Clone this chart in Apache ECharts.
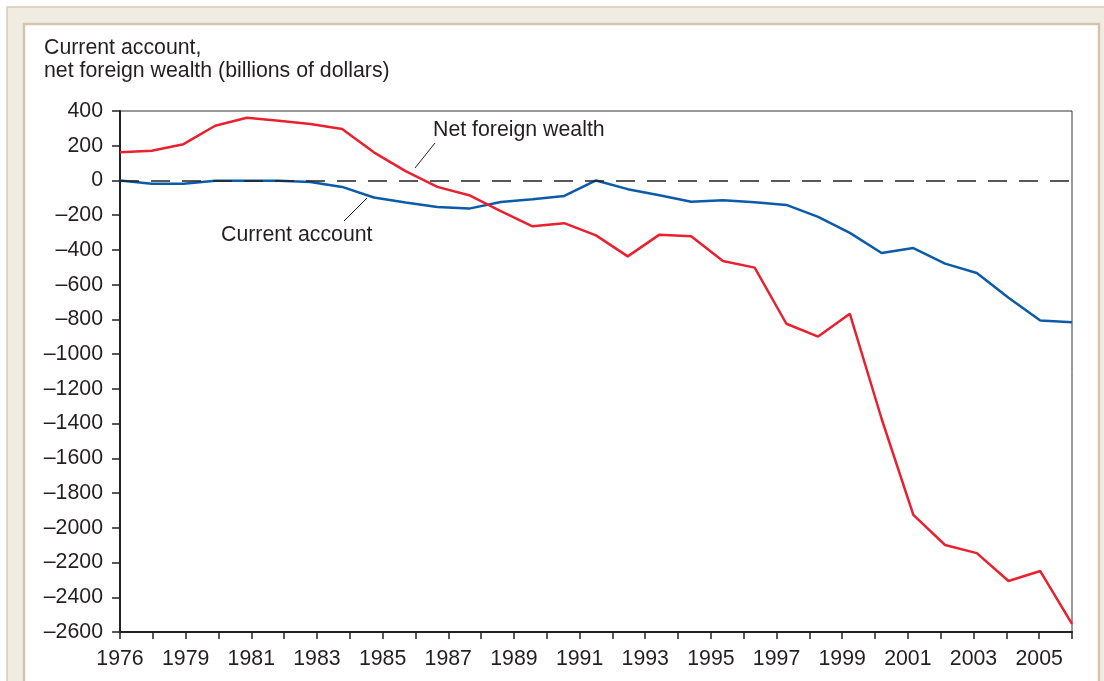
<!DOCTYPE html>
<html>
<head>
<meta charset="utf-8">
<script src="https://cdn.jsdelivr.net/npm/echarts@6/dist/echarts.min.js"></script>
<style>
html,body{margin:0;padding:0;background:#fff;}
#c{width:1104px;height:681px;}
</style>
</head>
<body>
<div id="c"></div>
<script>
// ---- data ----
var years = [1976,1977,1978,1979,1980,1981,1982,1983,1984,1985,1986,1987,1988,1989,1990,1991,1992,1993,1994,1995,1996,1997,1998,1999,2000,2001,2002,2003,2004,2005,2006];
var netForeignWealth = [162,171,209,315,361,344,325,296,162,54,-37,-85,-177,-264,-246,-316,-437,-312,-321,-464,-502,-825,-899,-768,-1372,-1926,-2099,-2146,-2306,-2249,-2553];
var currentAccount = [0,-19,-19,-2,-1,-1,-9,-37,-98,-127,-153,-162,-124,-108,-89,0,-50,-85,-123,-114,-125,-141,-210,-302,-418,-389,-479,-533,-675,-806,-816];
var xTickLabels = ['1976','1979','1981','1983','1985','1987','1989','1991','1993','1995','1997','1999','2001','2003','2005'];
var xTickCount = 29; // tick intervals on the drawn year axis

var FONT = '"Liberation Sans", Arial, Helvetica, sans-serif';
var INK = '#231f20';
var FS = 21.3;

var chart = echarts.init(document.getElementById('c'), null, {renderer:'canvas'});
chart.setOption({
  backgroundColor: '#ffffff',
  animation: false,
  textStyle: {fontFamily: FONT},
  title: {
    text: 'Current account,\nnet foreign wealth (billions of dollars)',
    left: 44, top: 37, padding: 0,
    textStyle: {fontFamily: FONT, fontSize: FS, fontWeight: 'normal', color: INK, lineHeight: 23}
  },
  grid: {left: 120, right: 32, top: 111, bottom: 49, show: true, borderColor: '#333', borderWidth: 1, backgroundColor: '#fff'},
  xAxis: [
    {type: 'category', data: years, boundaryGap: false, show: false},
    {type: 'value', min: 0, max: xTickCount, interval: 1, position: 'bottom',
     axisLine: {show: true, lineStyle: {color: '#222', width: 2}},
     axisTick: {show: true, inside: false, length: 7, lineStyle: {color: '#222', width: 1.5}},
     splitLine: {show: false},
     axisLabel: {margin: 17, fontSize: FS, color: INK, fontFamily: FONT,
       formatter: function(v){ return (v % 2 === 0) ? (xTickLabels[v/2] || '') : ''; }}
    }
  ],
  yAxis: {
    type: 'value', min: -2600, max: 400, interval: 200,
    axisLine: {show: true, lineStyle: {color: '#222', width: 2}},
    axisTick: {show: true, inside: false, length: 8, lineStyle: {color: '#222', width: 1.5}},
    splitLine: {show: false},
    axisLabel: {margin: 17, fontSize: FS, color: INK, fontFamily: FONT,
      formatter: function(v){ return String(v).replace('-', '\u2013'); }}
  },
  series: [
    {name: 'Current account', type: 'line', xAxisIndex: 0, data: currentAccount, symbol: 'none',
     lineStyle: {color: '#0b5ba8', width: 2.5}, z: 3,
     markLine: {silent: true, symbol: 'none', label: {show: false},
       lineStyle: {color: '#222', width: 1.5, type: [19, 12]},
       data: [{yAxis: 0}]}},
    {name: 'Net foreign wealth', type: 'line', xAxisIndex: 0, data: netForeignWealth, symbol: 'none',
     lineStyle: {color: '#e8202f', width: 2.5}, z: 4}
  ],
  graphic: [
    {type: 'rect', z: -10, silent: true, shape: {x: 7, y: 7, width: 1200, height: 800},
     style: {fill: '#f1ece2', stroke: '#d6cbb8', lineWidth: 1.5}},
    {type: 'rect', z: -9, silent: true, shape: {x: 24, y: 24, width: 1075, height: 800},
     style: {fill: '#ffffff', stroke: '#d3c6b0', lineWidth: 2.5}},
    {type: 'text', z: 10, style: {text: 'Net foreign wealth', x: 433, y: 130, font: FS + 'px ' + FONT, fill: INK, verticalAlign: 'middle'}},
    {type: 'line', z: 10, shape: {x1: 435, y1: 143, x2: 415, y2: 168}, style: {stroke: INK, lineWidth: 1}},
    {type: 'text', z: 10, style: {text: 'Current account', x: 221, y: 235, font: FS + 'px ' + FONT, fill: INK, verticalAlign: 'middle'}},
    {type: 'line', z: 10, shape: {x1: 367, y1: 198, x2: 344, y2: 221}, style: {stroke: INK, lineWidth: 1}}
  ]
});
</script>
</body>
</html>
